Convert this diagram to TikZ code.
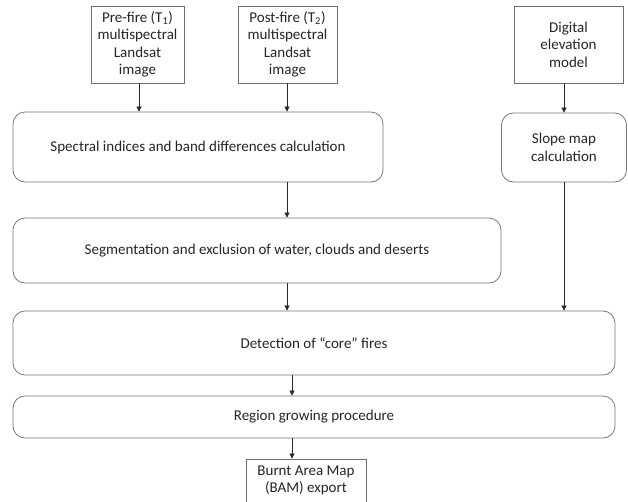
\documentclass[tikz,border=0pt]{standalone}
\usepackage{fontspec}
\setmainfont{Carlito}
\usetikzlibrary{arrows.meta}
\definecolor{sqgray}{RGB}{110,110,110}
\definecolor{rgray}{RGB}{120,120,120}
\definecolor{arrgray}{RGB}{40,40,40}
\begin{document}
\begin{tikzpicture}[x=1pt,y={(0pt,-1pt)},
  every node/.style={font=\fontsize{15}{17.5}\selectfont, inner sep=0pt, align=center, text=black!85},
  sqbox/.style={draw=sqgray, line width=0.8pt, rectangle},
  rbox/.style={draw=rgray, line width=0.8pt, rectangle, rounded corners=12pt},
  arr/.style={draw=arrgray, line width=0.7pt, -{Triangle[width=5pt,length=5pt]}}]
\useasboundingbox[fill=white] (0,0) rectangle (628,501);
% input boxes
\node[sqbox, minimum width=93, minimum height=77] (pre) at (137.5,44.5) {Pre-fire (T\textsubscript{1})\\multispectral\\Landsat\\image};
\node[sqbox, minimum width=99, minimum height=77] (post) at (287.5,44.5) {Post-fire (T\textsubscript{2})\\multispectral\\Landsat\\image};
\node[sqbox, minimum width=109, minimum height=77] (dem) at (568.5,44.5) {Digital\\elevation\\model};
% process boxes
\node[rbox, minimum width=370, minimum height=70] (spec) at (198,147) {Spectral indices and band differences calculation};
\node[rbox, minimum width=125, minimum height=69] (slope) at (564,147.5) {Slope map\\calculation};
\node[rbox, minimum width=488, minimum height=65] (seg) at (257,250.5) {Segmentation and exclusion of water, clouds and deserts};
\node[rbox, minimum width=602, minimum height=64] (det) at (314,343) {Detection of “core” fires};
\node[rbox, minimum width=602, minimum height=42] (reg) at (314,417) {Region growing procedure};
\node[sqbox, minimum width=120, minimum height=43] (bam) at (306,480.5) {Burnt Area Map\\(BAM) export};
% helper columns
\coordinate (ca) at (139,0);
\coordinate (cb) at (287,0);
\coordinate (cc) at (292,0);
% connectors
\draw[arr] (pre.south -| ca) -- (spec.north -| ca);
\draw[arr] (post.south -| cb) -- (spec.north -| cb);
\draw[arr] (dem.south -| slope.north) -- (slope.north);
\draw[arr] (spec.south -| cb) -- (seg.north -| cb);
\draw[arr] (seg.south -| cb) -- (det.north -| cb);
\draw[arr] (slope.south) -- (det.north -| slope.south);
\draw[arr] (det.south -| cc) -- (reg.north -| cc);
\draw[arr] (reg.south -| cc) -- (bam.north -| cc);
\end{tikzpicture}
\end{document}
